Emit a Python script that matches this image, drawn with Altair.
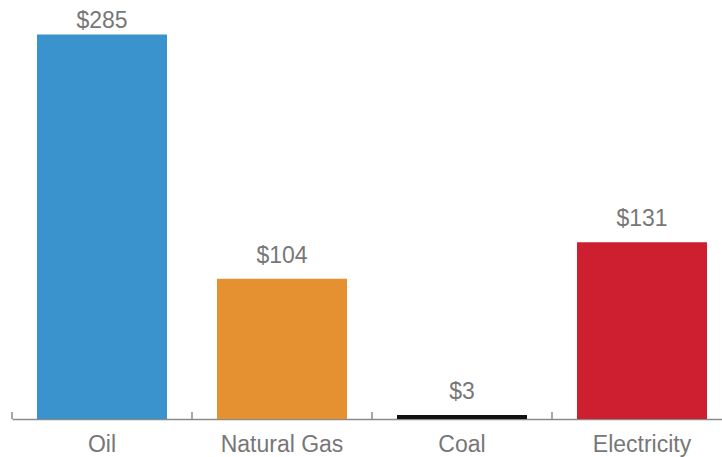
import altair as alt
import pandas as pd

# Spending by energy source (dollars)
categories = ["Oil", "Natural Gas", "Coal", "Electricity"]
values = [285, 104, 3, 131]
colors = ["#3b93cd", "#e69131", "#111111", "#cd1f30"]
labels = ["$285", "$104", "$3", "$131"]

df = pd.DataFrame({"source": categories, "value": values, "label": labels})

W, H = 710, 419
STEP = 180
GAP = 50
x_scale = alt.Scale(domain=categories, range=[0, 4 * STEP], paddingInner=GAP / STEP, paddingOuter=GAP / 2 / STEP)
y_scale = alt.Scale(domain=[0, 310.6], nice=False, zero=True)

x_axis = alt.Axis(
    labelAngle=0,
    labelFont="Liberation Sans",
    labelFontSize=23,
    labelColor="#777777",
    labelPadding=32,
    labelBaseline="alphabetic",
    ticks=False,
    tickSize=0,
    domainColor="#8a8a8a",
    domainWidth=1.5,
    grid=False,
)


def x_enc(**kw):
    return alt.X("source:N", scale=x_scale, sort=categories, title=None, axis=x_axis, **kw)


bars = alt.Chart(df).mark_bar().encode(
    x=x_enc(),
    y=alt.Y("value:Q", scale=y_scale, axis=None),
    color=alt.Color("source:N", scale=alt.Scale(domain=categories, range=colors), legend=None),
)

# value labels above each bar, kept inside the top of the plot
text = alt.Chart(df).transform_calculate(
    label_pos="min(datum.value, 278)"
).mark_text(
    font="Liberation Sans", fontSize=23, color="#777777", baseline="alphabetic", dy=-16
).encode(
    x=x_enc(),
    y=alt.Y("label_pos:Q", scale=y_scale, axis=None),
    text="label:N",
)

# tick marks at the category boundaries, pointing up from the baseline
ticks = alt.Chart(df).mark_rule(color="#8a8a8a", strokeWidth=1.5, xOffset=-GAP / 2).encode(
    x=x_enc(bandPosition=0),
    y=alt.value(H - 7),
    y2=alt.value(H),
)

chart = alt.layer(bars, text, ticks).properties(
    width=W,
    height=H,
    background="white",
    autosize=alt.AutoSizeParams(type="none"),
    padding={"left": 12, "top": 0, "right": 0, "bottom": 38},
).configure_view(strokeWidth=0, stroke=None)

chart.save("out.html", embed_options={"renderer": "svg", "actions": False})
